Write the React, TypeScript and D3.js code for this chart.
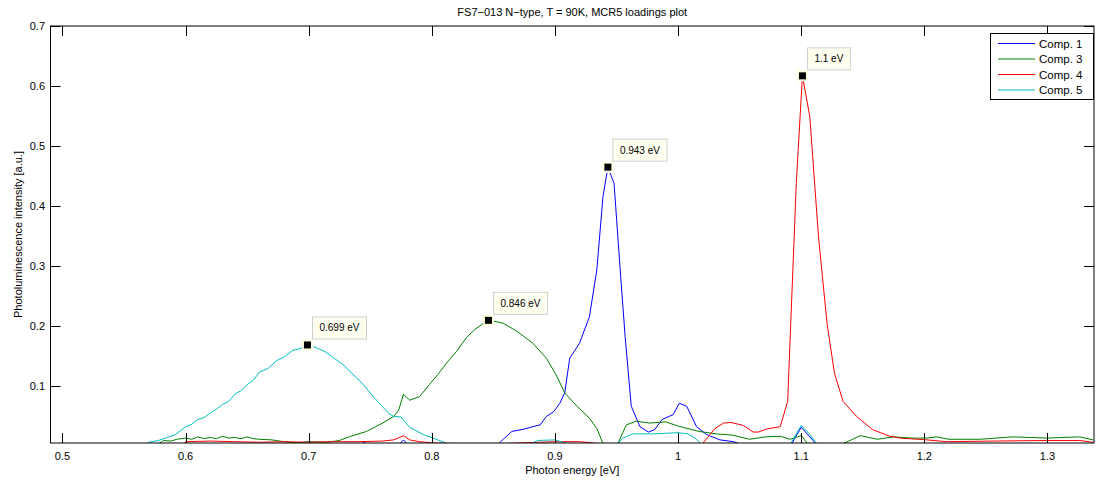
import React, { useEffect, useRef } from 'react';
import * as d3 from 'd3';

// loadings (energy in eV, intensity in a.u.)
const comp1E = [0.49, 0.74, 0.745, 0.75, 0.772, 0.777, 0.782, 0.852, 0.858, 0.865, 0.875, 0.882, 0.888, 0.893, 0.899, 0.904, 0.908, 0.912, 0.92, 0.928, 0.934, 0.939, 0.943, 0.948, 0.953, 0.957, 0.962, 0.969, 0.976, 0.981, 0.987, 0.996, 1.001, 1.007, 1.015, 1.023, 1.034, 1.045, 1.056, 1.091, 1.1, 1.107, 1.114, 1.338];
const comp1I = [0, 0, 0.007, 0, 0, 0.011, 0, 0, 0.012, 0.025, 0.029, 0.033, 0.036, 0.05, 0.058, 0.072, 0.09, 0.147, 0.172, 0.216, 0.294, 0.416, 0.465, 0.438, 0.294, 0.183, 0.067, 0.033, 0.024, 0.028, 0.045, 0.053, 0.072, 0.067, 0.033, 0.02, 0.011, 0.008, 0, 0, 0.032, 0.016, 0, 0];

const comp3E = [0.49, 0.575, 0.582, 0.588, 0.593, 0.6, 0.605, 0.61, 0.615, 0.62, 0.625, 0.63, 0.635, 0.64, 0.645, 0.65, 0.655, 0.66, 0.67, 0.68, 0.69, 0.7, 0.715, 0.725, 0.734, 0.747, 0.76, 0.769, 0.773, 0.777, 0.782, 0.79, 0.798, 0.805, 0.812, 0.82, 0.828, 0.835, 0.842, 0.846, 0.852, 0.858, 0.869, 0.882, 0.893, 0.901, 0.908, 0.918, 0.928, 0.934, 0.94, 0.95, 0.958, 0.966, 0.977, 0.99, 1.0, 1.017, 1.031, 1.044, 1.058, 1.071, 1.083, 1.091, 1.1, 1.107, 1.129, 1.148, 1.162, 1.175, 1.19, 1.202, 1.21, 1.22, 1.245, 1.272, 1.299, 1.326, 1.337];
const comp3I = [0, 0, 0.01, 0.009, 0.012, 0.014, 0.012, 0.016, 0.013, 0.015, 0.013, 0.017, 0.014, 0.015, 0.013, 0.016, 0.013, 0.012, 0.011, 0.008, 0.006, 0.008, 0.007, 0.01, 0.017, 0.025, 0.039, 0.05, 0.06, 0.087, 0.077, 0.083, 0.103, 0.12, 0.139, 0.158, 0.181, 0.195, 0.205, 0.21, 0.208, 0.205, 0.192, 0.172, 0.147, 0.119, 0.089, 0.067, 0.047, 0.03, 0, 0, 0.036, 0.042, 0.039, 0.041, 0.034, 0.025, 0.021, 0.019, 0.012, 0.016, 0.017, 0.012, 0.018, 0, 0, 0.018, 0.012, 0.016, 0.014, 0.014, 0.016, 0.012, 0.012, 0.016, 0.014, 0.016, 0.011];

const comp4E = [0.49, 0.598, 0.6, 0.62, 0.64, 0.66, 0.68, 0.7, 0.72, 0.74, 0.76, 0.769, 0.777, 0.782, 0.79, 0.8, 0.82, 0.86, 0.9, 0.92, 0.935, 1.018, 1.03, 1.037, 1.043, 1.053, 1.061, 1.065, 1.072, 1.083, 1.089, 1.096, 1.101, 1.107, 1.114, 1.121, 1.127, 1.134, 1.145, 1.158, 1.172, 1.18, 1.202, 1.218, 1.256, 1.299, 1.326, 1.337];
const comp4I = [0, 0, 0.008, 0.009, 0.008, 0.007, 0.008, 0.007, 0.008, 0.008, 0.009, 0.011, 0.018, 0.011, 0.008, 0.006, 0.005, 0.005, 0.008, 0.008, 0.005, 0, 0.03, 0.039, 0.04, 0.035, 0.024, 0.024, 0.029, 0.033, 0.075, 0.438, 0.617, 0.549, 0.35, 0.205, 0.122, 0.075, 0.05, 0.028, 0.017, 0.014, 0.011, 0.008, 0.009, 0.01, 0.01, 0.007];

const comp5E = [0.49, 0.566, 0.57, 0.578, 0.585, 0.592, 0.6, 0.605, 0.61, 0.615, 0.62, 0.625, 0.63, 0.635, 0.64, 0.645, 0.65, 0.655, 0.66, 0.667, 0.674, 0.68, 0.687, 0.693, 0.699, 0.704, 0.709, 0.714, 0.72, 0.728, 0.736, 0.744, 0.752, 0.765, 0.769, 0.775, 0.782, 0.793, 0.801, 0.81, 0.818, 0.876, 0.886, 0.9, 0.908, 0.914, 0.949, 0.955, 0.963, 0.98, 0.99, 1.0, 1.008, 1.015, 1.02, 1.09, 1.1, 1.107, 1.114, 1.338];
const comp5I = [0, 0, 0.007, 0.01, 0.015, 0.02, 0.033, 0.037, 0.045, 0.048, 0.056, 0.062, 0.07, 0.075, 0.087, 0.093, 0.103, 0.11, 0.124, 0.13, 0.143, 0.149, 0.16, 0.163, 0.169, 0.166, 0.162, 0.157, 0.148, 0.136, 0.12, 0.104, 0.084, 0.055, 0.05, 0.049, 0.032, 0.02, 0.014, 0.007, 0, 0, 0.01, 0.011, 0.006, 0, 0, 0.014, 0.021, 0.021, 0.022, 0.023, 0.021, 0.012, 0, 0, 0.035, 0.02, 0, 0];

const seriesNames = ['Comp. 1', 'Comp. 3', 'Comp. 4', 'Comp. 5'];
const seriesColors = ['#0000ff', '#008000', '#ff0000', '#00bfbf'];

// data tips
const tipE = [0.699, 0.846, 0.943, 1.101];
const tipI = [0.169, 0.21, 0.465, 0.617];
const tipLabels = ['0.699 eV', '0.846 eV', '0.943 eV', '1.1 eV'];

const xTicks = [0.5, 0.6, 0.7, 0.8, 0.9, 1.0, 1.1, 1.2, 1.3];
const yTicks = [0.1, 0.2, 0.3, 0.4, 0.5, 0.6, 0.7];

const W = 1099;
const H = 482;
const FONT = '"Liberation Sans", Arial, Helvetica, sans-serif';

export default function App() {
  const ref = useRef<SVGSVGElement>(null);

  useEffect(() => {
    const svg = d3.select(ref.current);
    svg.selectAll('*').remove();

    const margin = { top: 26, bottom: 443, left: 50.5, right: 1094 };

    const x = d3.scaleLinear().domain([0.4903, 1.3378]).range([margin.left, margin.right]);
    const y = d3.scaleLinear().domain([0.0058, 0.7]).range([margin.bottom, margin.top]);

    svg.append('rect').attr('width', W).attr('height', H).attr('fill', 'white');

    svg.append('defs').append('clipPath').attr('id', 'plotclip')
      .append('rect')
      .attr('x', margin.left).attr('y', margin.top)
      .attr('width', margin.right - margin.left).attr('height', margin.bottom - margin.top);

    const series = [
      comp1E.map((e, i) => [e, comp1I[i]]),
      comp3E.map((e, i) => [e, comp3I[i]]),
      comp4E.map((e, i) => [e, comp4I[i]]),
      comp5E.map((e, i) => [e, comp5I[i]]),
    ];

    const line = d3.line<number[]>().x(d => x(d[0])).y(d => y(d[1]));

    const g = svg.append('g').attr('clip-path', 'url(#plotclip)');
    series.forEach((s, i) => {
      g.append('path')
        .attr('d', line(s))
        .attr('fill', 'none')
        .attr('stroke', seriesColors[i])
        .attr('stroke-width', 1)
        .attr('stroke-linejoin', 'round');
    });

    // axes box with inward ticks on all sides
    const tickLen = 10;
    const axes = svg.append('g').attr('stroke', '#000').attr('stroke-width', 1);
    axes.append('rect')
      .attr('x', margin.left).attr('y', margin.top)
      .attr('width', margin.right - margin.left).attr('height', margin.bottom - margin.top)
      .attr('fill', 'none');
    xTicks.forEach(t => {
      const px = Math.round(x(t)) + 0.5;
      axes.append('line').attr('x1', px).attr('x2', px).attr('y1', margin.bottom).attr('y2', margin.bottom - tickLen);
      axes.append('line').attr('x1', px).attr('x2', px).attr('y1', margin.top).attr('y2', margin.top + tickLen);
    });
    yTicks.forEach(t => {
      const py = Math.round(y(t)) + 0.5;
      axes.append('line').attr('x1', margin.left).attr('x2', margin.left + tickLen).attr('y1', py).attr('y2', py);
      axes.append('line').attr('x1', margin.right).attr('x2', margin.right - tickLen).attr('y1', py).attr('y2', py);
    });

    const fmt = (v: number) => d3.format('~g')(v);

    svg.append('g').selectAll('text').data(xTicks).enter().append('text')
      .attr('x', d => x(d))
      .attr('y', 460)
      .attr('text-anchor', 'middle')
      .attr('font-family', FONT)
      .attr('font-size', 11)
      .text(d => fmt(d));

    svg.append('g').selectAll('text').data(yTicks).enter().append('text')
      .attr('x', 45)
      .attr('y', d => y(d))
      .attr('dy', '0.35em')
      .attr('text-anchor', 'end')
      .attr('font-family', FONT)
      .attr('font-size', 11)
      .text(d => fmt(d));

    const cx = (margin.left + margin.right) / 2;
    svg.append('text')
      .attr('x', cx).attr('y', 16)
      .attr('text-anchor', 'middle')
      .attr('font-family', FONT).attr('font-size', 11)
      .text('FS7\u2212013 N\u2212type, T = 90K, MCR5 loadings plot');

    svg.append('text')
      .attr('x', cx).attr('y', 474)
      .attr('text-anchor', 'middle')
      .attr('font-family', FONT).attr('font-size', 11)
      .text('Photon energy [eV]');

    svg.append('text')
      .attr('transform', `translate(22, ${(margin.top + margin.bottom) / 2}) rotate(-90)`)
      .attr('text-anchor', 'middle')
      .attr('font-family', FONT).attr('font-size', 11)
      .text('Photoluminescence intensity [a.u.]');

    // data tips
    tipE.forEach((e, i) => {
      const mx = x(e);
      const my = y(tipI[i]);
      const tg = svg.append('g');
      const txt = tg.append('text')
        .attr('x', mx + 12).attr('y', my - 13.5)
        .attr('font-family', FONT).attr('font-size', 10)
        .text(tipLabels[i]);
      const tw = (txt.node() as SVGTextElement).getComputedTextLength();
      tg.insert('rect', 'text')
        .attr('x', mx + 5).attr('y', my - 28)
        .attr('width', tw + 14).attr('height', 22)
        .attr('fill', '#fffff0')
        .attr('stroke', '#cfcfcf');
      tg.append('rect')
        .attr('x', mx - 5.5).attr('y', my - 5.5).attr('width', 11).attr('height', 11)
        .attr('fill', '#ffffe0');
      tg.append('rect')
        .attr('x', mx - 3.5).attr('y', my - 3.5).attr('width', 7).attr('height', 7)
        .attr('fill', '#000');
    });

    // legend
    const lg = svg.append('g');
    lg.append('rect')
      .attr('x', 990.5).attr('y', 33.5).attr('width', 103).attr('height', 66)
      .attr('fill', 'white').attr('stroke', '#000').attr('stroke-width', 1);
    seriesNames.forEach((name, i) => {
      const ly = 43.5 + i * 15.5;
      lg.append('line')
        .attr('x1', 998).attr('x2', 1035).attr('y1', ly).attr('y2', ly)
        .attr('stroke', seriesColors[i]).attr('stroke-width', 1.2);
      lg.append('text')
        .attr('x', 1039).attr('y', ly).attr('dy', '0.36em')
        .attr('font-family', FONT).attr('font-size', 11.5)
        .text(name);
    });
  }, []);

  return (
    <svg ref={ref} width={W} height={H}
      style={{ position: 'absolute', left: 0, top: 0, display: 'block' }} />
  );
}
